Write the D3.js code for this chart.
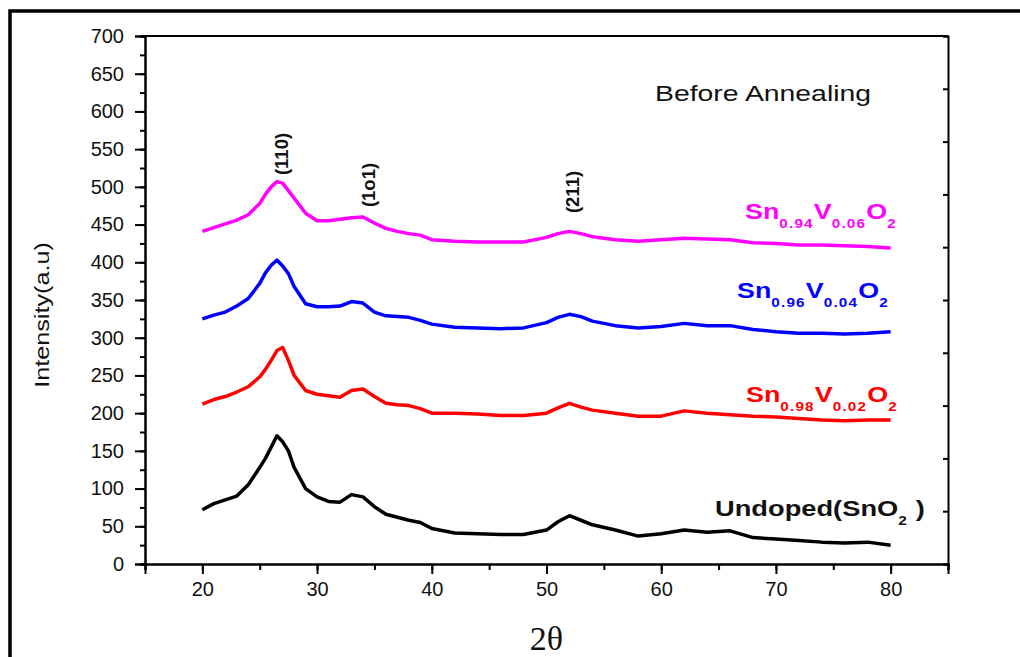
<!DOCTYPE html>
<html>
<head>
<meta charset="utf-8">
<script src="https://d3js.org/d3.v7.min.js"></script>
<style>
  body { margin: 0; background: #fff; }
  svg { display: block; }
  text { font-family: "Liberation Sans", Arial, sans-serif; fill: #111; }
</style>
</head>
<body>
<script>
//2theta positions the curves were read at
var twoTheta = [20, 21, 22, 23, 24, 25, 25.5, 26, 26.5, 27, 27.5, 28, 29, 30, 31, 32, 33, 34, 35, 36, 37, 38, 39, 40,
  42, 44, 46, 48, 50, 51, 52, 53, 54, 56, 58, 60, 62, 64, 66, 68, 70, 72, 74, 76, 78, 80];

//intensity of each sample (a.u)
var undoped = [72, 80, 85, 90, 105, 128, 140, 155, 170, 162, 150, 128, 100, 89, 83, 82, 92, 89, 76, 66, 62, 58, 55, 47,
  41, 40, 39, 39, 45, 56, 64, 58, 52, 45, 37, 40, 45, 42, 44, 35, 33, 31, 29, 28, 29, 25];
var snV002 = [212, 218, 222, 228, 235, 248, 258, 270, 283, 287, 270, 250, 230, 225, 223, 221, 230, 232, 222, 213, 211, 210, 206, 200,
  200, 199, 197, 197, 200, 207, 213, 208, 204, 200, 196, 196, 203, 200, 198, 196, 195, 193, 191, 190, 191, 191];
var snV004 = [325, 330, 334, 342, 352, 372, 386, 396, 403, 395, 385, 368, 345, 341, 341, 342, 348, 346, 334, 329, 328, 327, 323, 318,
  314, 313, 312, 313, 320, 327, 331, 328, 322, 316, 313, 315, 319, 316, 316, 311, 308, 306, 306, 305, 306, 308];
var snV006 = [441, 446, 451, 456, 463, 478, 490, 500, 507, 505, 495, 485, 465, 455, 455, 457, 459, 460, 452, 445, 441, 438, 436, 430,
  428, 427, 427, 427, 433, 438, 441, 438, 434, 430, 428, 430, 432, 431, 430, 426, 425, 423, 423, 422, 421, 419];

//legend texts, second item marks a subscript
var labelUndoped = [['Undoped(SnO', 0], ['2', 1], [' )', 0]];
var label002 = [['Sn', 0], ['0.98', 1], ['V', 0], ['0.02', 1], ['O', 0], ['2', 1]];
var label004 = [['Sn', 0], ['0.96', 1], ['V', 0], ['0.04', 1], ['O', 0], ['2', 1]];
var label006 = [['Sn', 0], ['0.94', 1], ['V', 0], ['0.06', 1], ['O', 0], ['2', 1]];

//reflections marked above the peaks
var peakNames = ['(110)', '(1o1)', '(211)'];
var peakPos = [26.9, 34.5, 52.3];

//axis ticks
var yTicks = d3.range(0, 701, 50);
var xTicks = [20, 30, 40, 50, 60, 70, 80];

//svg dimensions
var width = 1020,
    height = 657;

var margin = { left: 145, top: 36, right: 948, bottom: 564 };

var svg = d3.select('body')
  .append('svg')
  .attr('width', width)
  .attr('height', height);

//outer frame round the figure
svg.append('rect')
  .attr('x', 10)
  .attr('y', 11)
  .attr('width', 1100)
  .attr('height', 800)
  .attr('fill', 'none')
  .attr('stroke', '#000')
  .attr('stroke-width', 3.5);

var x = d3.scaleLinear().domain([15, 85]).range([margin.left, margin.right]);
var y = d3.scaleLinear().domain([0, 700]).range([margin.bottom, margin.top]);

//left axis, major and minor ticks
svg.append('g')
  .attr('transform', 'translate(' + margin.left + ',0)')
  .call(d3.axisLeft(y).tickValues(d3.range(0, 701, 25)).tickSize(5).tickFormat(''));
svg.append('g')
  .attr('transform', 'translate(' + margin.left + ',0)')
  .call(d3.axisLeft(y).tickValues(yTicks).tickSize(10).tickPadding(11));

//bottom axis
svg.append('g')
  .attr('transform', 'translate(0,' + margin.bottom + ')')
  .call(d3.axisBottom(x).tickValues(d3.range(15, 86, 5)).tickSize(6).tickFormat(''));
svg.append('g')
  .attr('transform', 'translate(0,' + margin.bottom + ')')
  .call(d3.axisBottom(x).tickValues(xTicks).tickSize(10).tickPadding(8));

//right side has only small inner ticks
var yRight = d3.scaleLinear().domain([0, 10]).range([margin.bottom, margin.top]);
svg.append('g')
  .attr('transform', 'translate(' + margin.right + ',0)')
  .call(d3.axisRight(yRight).ticks(10).tickSize(-5).tickFormat(''));

//top line
svg.append('line')
  .attr('x1', margin.left).attr('x2', margin.right)
  .attr('y1', margin.top).attr('y2', margin.top)
  .attr('stroke', '#000').attr('stroke-width', 2);

svg.selectAll('.domain').attr('stroke', '#000').attr('stroke-width', 2);
svg.selectAll('.tick line').attr('stroke', '#000').attr('stroke-width', 2);
svg.selectAll('.tick text')
  .attr('font-size', 20)
  .attr('font-family', '"Liberation Sans", Arial, sans-serif')
  .attr('fill', '#111');

//curves
var series = [
  { values: undoped, color: '#000000' },
  { values: snV002, color: '#ff0000' },
  { values: snV004, color: '#0000ff' },
  { values: snV006, color: '#ff00ff' }
];

var line = d3.line()
  .x(function(d, i) { return x(twoTheta[i]); })
  .y(function(d) { return y(d); });

svg.selectAll('path.curve')
  .data(series)
  .enter().append('path')
  .attr('class', 'curve')
  .attr('d', function(d) { return line(d.values); })
  .attr('fill', 'none')
  .attr('stroke', function(d) { return d.color; })
  .attr('stroke-width', 3.5)
  .attr('stroke-linejoin', 'round');

//legend labels with subscripts
function formula(parts, px, py, color, sx) {
  var t = svg.append('text')
    .attr('transform', 'translate(' + px + ',' + py + ') scale(' + sx + ',1)')
    .attr('font-weight', 'bold')
    .style('fill', color);
  var down = false;
  parts.forEach(function(p) {
    var sub = p[1] === 1;
    var shift = 0;
    if (sub && !down) shift = 9;
    if (!sub && down) shift = -9;
    down = sub;
    t.append('tspan')
      .attr('dy', shift)
      .attr('font-size', sub ? 12.5 : 22)
      .attr('letter-spacing', sub ? 1 : 0)
      .text(p[0]);
  });
}

formula(label006, 745, 219, '#ff00ff', 1.22);
formula(label004, 737, 298, '#0000ff', 1.22);
formula(label002, 746, 402, '#ff0000', 1.22);
formula(labelUndoped, 715, 516, '#111', 1.24);

//peak labels, rotated
svg.selectAll('text.peak')
  .data(peakNames)
  .enter().append('text')
  .attr('class', 'peak')
  .attr('transform', function(d, i) {
    var yy = [154, 185, 192][i];
    return 'translate(' + (x(peakPos[i]) + 6.5) + ',' + yy + ') rotate(-90)';
  })
  .attr('text-anchor', 'middle')
  .attr('font-size', 18.5)
  .attr('font-weight', 'bold')
  .text(function(d) { return d; });

//annotation
svg.append('text')
  .attr('transform', 'translate(655,101) scale(1.29,1)')
  .attr('font-size', 22)
  .text('Before Annealing');

//axis titles
svg.append('text')
  .attr('transform', 'translate(49,315) rotate(-90) scale(1.26,1)')
  .attr('text-anchor', 'middle')
  .attr('font-size', 20)
  .text('Intensity(a.u)');

svg.append('text')
  .attr('x', (margin.left + margin.right) / 2)
  .attr('y', 650)
  .attr('text-anchor', 'middle')
  .attr('font-size', 34)
  .style('font-family', '"Liberation Serif", "Times New Roman", serif')
  .text('2\u03B8');
</script>
</body>
</html>
